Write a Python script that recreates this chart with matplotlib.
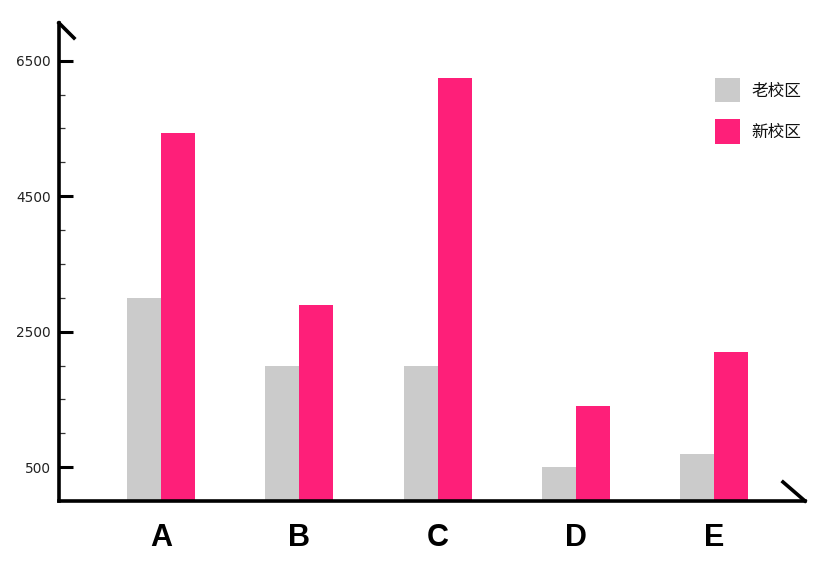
import numpy as np
import matplotlib.pyplot as plt
from matplotlib.ticker import FixedLocator

plt.rcParams['font.family'] = ['Noto Sans CJK SC', 'DejaVu Sans']

categories = ["A", "B", "C", "D", "E"]
old_campus = [3000, 2000, 2000, 500, 700]
new_campus = [5430, 2900, 6250, 1400, 2200]
series_names = ["老校区", "新校区"]
y_major = [500, 2500, 4500, 6500]

gray = "#cbcbcb"
pink = "#fe1f79"

fig = plt.figure(figsize=(8.31, 5.69), dpi=100)

# axes placed in pixels: left spine at x=59, baseline at y=501
W, H = 831, 569
left_px, right_px, top_px, base_px = 59, 805, 23, 501
ax = fig.add_axes([left_px / W, 1 - base_px / H,
                   (right_px - left_px) / W, (base_px - top_px) / H])

spacing = 138.25
x = np.arange(len(categories))
width = 34 / spacing

ax.bar(x - width / 2, old_campus, width, color=gray, label=series_names[0])
ax.bar(x + width / 2, new_campus, width, color=pink, label=series_names[1])

ax.set_xlim((left_px - 161) / spacing, (right_px - 161) / spacing)
px_per_unit = 135.5 / 2000
ax.set_ylim(0, (base_px - top_px) / px_per_unit)

for s in ["top", "right"]:
    ax.spines[s].set_visible(False)
for s in ["left", "bottom"]:
    ax.spines[s].set_linewidth(2.6)
    ax.spines[s].set_color("black")
    ax.spines[s].set_capstyle("projecting")

# slanted strokes at the end of each axis
ax.plot([0, 15 / 746], [1, 1 - 15 / 478], color="black", lw=2.6,
        transform=ax.transAxes, clip_on=False, solid_capstyle="projecting")
ax.plot([1 - 22 / 746, 1], [19 / 478, 0], color="black", lw=2.6,
        transform=ax.transAxes, clip_on=False, solid_capstyle="projecting")

ax.yaxis.set_major_locator(FixedLocator(y_major))
ax.yaxis.set_minor_locator(FixedLocator(
    [v for v in range(1000, 6500, 500) if v not in y_major]))
ax.tick_params(axis="y", which="major", direction="in", length=10, width=2.2,
               pad=6, labelsize=9.8, labelcolor="#222222")
ax.tick_params(axis="y", which="minor", direction="in", length=4.5, width=0.9,
               color="#333333")
for lab in ax.get_yticklabels():
    lab.set_family("DejaVu Sans")

ax.set_xticks(x)
ax.set_xticklabels(categories, fontsize=22, fontweight="bold",
                   family="Liberation Sans")
ax.tick_params(axis="x", length=0, pad=16)

leg = ax.legend(loc="upper left", bbox_to_anchor=(715 / W, 1 - 78 / H),
                bbox_transform=fig.transFigure, frameon=False, fontsize=12,
                handlelength=1.5, handleheight=1.87, labelspacing=1.02,
                handletextpad=0.7, borderpad=0, borderaxespad=0)
for t in leg.get_texts():
    t.set_color("#111111")

plt.savefig("out.png", dpi=100)
plt.close()
